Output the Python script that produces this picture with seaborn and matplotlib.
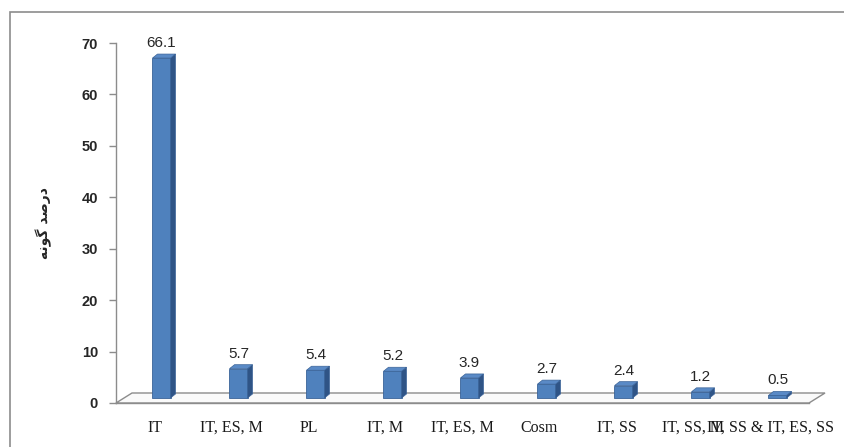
import numpy as np
import pandas as pd
import seaborn as sns
import matplotlib
matplotlib.use("Agg")
import matplotlib.pyplot as plt
from matplotlib.patches import Polygon, Rectangle
from matplotlib.transforms import IdentityTransform

# Species groups and their share (%)
categories = ["IT", "IT, ES, M", "PL", "IT, M", "IT, ES, M", "Cosm",
              "IT, SS", "IT, SS, M", "IT, SS & IT, ES, SS"]
percentages = [66.1, 5.7, 5.4, 5.2, 3.9, 2.7, 2.4, 1.2, 0.5]
y_ticks = [0, 10, 20, 30, 40, 50, 60, 70]
# "درصد گونه" written with Arabic presentation forms in visual order
y_label = "\uFEEA\uFEE7\uFEEE\uFB94 \uFEAA\uFEBB\uFEAD\uFEA9"

sns.set_theme(style="white")
plt.rcParams["font.family"] = ["DejaVu Sans"]

W, H = 844, 447
fig = plt.figure(figsize=(W / 100, H / 100), dpi=100)
ax = fig.add_axes([116 / W, (H - 403) / H, (809 - 116) / W, (403 - 43) / H])

front = "#4F81BD"
side = "#2F5486"
top = "#5A8AC6"
edge = "#3A6398"
grey = "#8C8C8C"

df = pd.DataFrame({"pos": list(range(len(categories))), "pct": percentages})
sns.barplot(data=df, x="pos", y="pct", color=front, saturation=1,
            width=0.234, ax=ax, edgecolor=edge, linewidth=0.6, zorder=4)
ax.set_xlim(-0.5, len(categories) - 0.5)
ax.set_ylim(0, 70)

# pseudo-3D: floor plane, bar side and top faces (pixel offsets)
shift_x, shift_y = 7, 5      # bars sit in the middle of the floor depth
depth_x, depth_y = 16, 10    # floor depth
face_x, face_y = 5, 4        # bar depth

fig.canvas.draw()
x0, y0 = ax.transData.transform((-0.5, 0))
x1, _ = ax.transData.transform((len(categories) - 0.5, 0))
floor = Polygon([(x0, y0), (x0 + depth_x, y0 + depth_y),
                 (x1 + depth_x, y0 + depth_y), (x1, y0)],
                closed=True, facecolor="#FAFAFA", edgecolor=grey, lw=1.0,
                transform=IdentityTransform(), clip_on=False, zorder=1)
ax.add_artist(floor)

for p in list(ax.patches):
    if not isinstance(p, Rectangle):
        continue
    bx, bw, bh = p.get_x(), p.get_width(), p.get_height()
    (xl, yb), (xr, yt) = ax.transData.transform([(bx, 0), (bx + bw, bh)])
    xl += shift_x; xr += shift_x; yb += shift_y; yt += shift_y
    p.set_transform(IdentityTransform())
    p.set_xy((xl, yb))
    p.set_width(xr - xl)
    p.set_height(yt - yb)
    p.set_clip_on(False)
    side_face = Polygon([(xr, yb), (xr + face_x, yb + face_y),
                         (xr + face_x, yt + face_y), (xr, yt)],
                        closed=True, facecolor=side, edgecolor=edge, lw=0.5,
                        transform=IdentityTransform(), clip_on=False, zorder=4)
    top_face = Polygon([(xl, yt), (xl + face_x, yt + face_y),
                        (xr + face_x, yt + face_y), (xr, yt)],
                       closed=True, facecolor=top, edgecolor=edge, lw=0.5,
                       transform=IdentityTransform(), clip_on=False, zorder=4)
    ax.add_artist(side_face)
    ax.add_artist(top_face)

# value labels
for i, v in enumerate(percentages):
    ax.annotate(f"{v}", xy=(i, v), xytext=(7 * 0.72, 13 * 0.72),
                textcoords="offset points", ha="center", va="bottom",
                fontsize=11, color="#262626", family=["Liberation Sans"],
                zorder=6)

# axes styling
for s in ["top", "right"]:
    ax.spines[s].set_visible(False)
ax.spines["left"].set_color(grey)
ax.spines["bottom"].set_color(grey)
ax.spines["left"].set_linewidth(1.0)
ax.spines["bottom"].set_linewidth(1.0)
ax.set_yticks(y_ticks)
ax.set_yticklabels([str(t) for t in y_ticks], fontsize=10.5,
                   fontweight="bold", color="#262626",
                   family=["Liberation Sans"])
ax.tick_params(axis="y", left=True, length=5, width=1, color=grey,
               direction="out", pad=8)
ax.set_xticks(range(len(categories)))
ax.set_xticklabels(categories, fontsize=11.5, color="#1a1a1a",
                   family=["Liberation Serif"])
ax.tick_params(axis="x", bottom=False, length=0, pad=12)
ax.set_xlabel("")
ax.set_ylabel(y_label, fontsize=10, fontweight="bold", rotation=90)
ax.yaxis.set_label_coords((52 - 116) / (809 - 116), 0.5)
ax.patch.set_alpha(0)

# outer chart border
fig.add_artist(Rectangle((10 / W, -0.1), 1.2, (H - 12) / H + 0.1,
                         transform=fig.transFigure, fill=False,
                         edgecolor=grey, lw=1.2))

fig.savefig("out.png", dpi=100)
